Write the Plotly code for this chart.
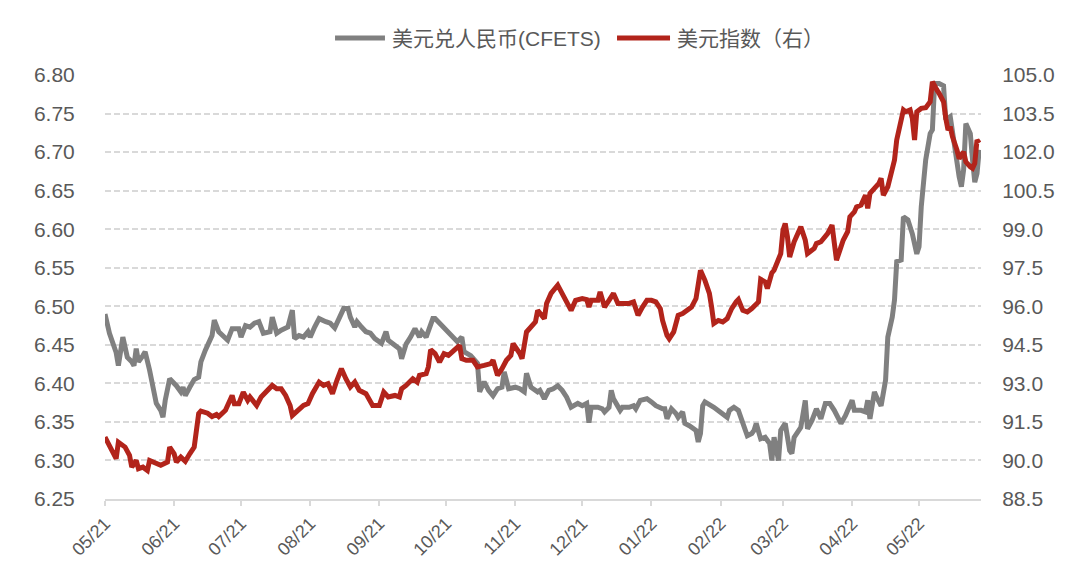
import pandas as pd
import plotly.graph_objects as go

# day offsets from 2021-05-01 and values
start = pd.Timestamp("2021-05-01")

cny_days = [0, 2, 5, 6, 8, 10, 12, 13, 14, 15, 17, 18, 20, 22, 23, 25, 26, 27, 29, 32, 34, 35, 36, 38, 40, 42, 43, 45, 48, 49,
            51, 55, 57, 60, 61, 63, 65, 67, 69, 71, 73, 74, 75, 77, 79, 82, 84, 85, 87, 89, 91, 92, 94, 96, 99, 101, 103, 105, 107, 109,
            110, 112, 113, 115, 117, 119, 121, 124, 126, 127, 130, 132, 133, 135, 137, 139, 141, 142, 144, 145, 147, 148, 153, 158, 160, 161, 164, 167, 168, 170,
            172, 174, 176, 178, 179, 181, 184, 186, 188, 189, 191, 194, 195, 197, 199, 201, 203, 205, 207, 209, 212, 214, 216, 217, 218, 221, 223, 224, 226, 227,
            228, 231, 232, 235, 237, 238, 240, 243, 245, 247, 250, 251, 252, 254, 256, 257, 259, 260, 262, 264, 265, 266, 267, 268, 269, 273, 277, 279, 280, 282,
            284, 286, 288, 290, 291, 292, 294, 296, 298, 299, 300, 302, 303, 305, 307, 308, 309, 312, 314, 315, 317, 319, 321, 323, 325, 327, 330, 332, 335, 336,
            339, 341, 342, 343, 345, 346, 348, 350, 351, 352, 353, 354, 355, 357, 358, 360, 362, 364, 365, 366, 367, 368, 370, 371, 372, 374, 376, 377, 379, 381,
            383, 384, 385, 386, 388, 389, 390, 391, 392]
cny = [6.490, 6.465, 6.440, 6.423, 6.460, 6.434, 6.428, 6.423, 6.445, 6.428, 6.436, 6.441, 6.417, 6.387, 6.374, 6.365, 6.356, 6.378, 6.406, 6.397, 6.389, 6.395, 6.384, 6.395, 6.405, 6.408, 6.428, 6.443, 6.462, 6.482,
       6.467, 6.456, 6.471, 6.471, 6.460, 6.475, 6.473, 6.478, 6.480, 6.465, 6.467, 6.467, 6.486, 6.465, 6.469, 6.473, 6.495, 6.458, 6.462, 6.460, 6.467, 6.460, 6.473, 6.484, 6.480, 6.478, 6.472, 6.486, 6.497, 6.497,
       6.486, 6.473, 6.480, 6.473, 6.467, 6.465, 6.458, 6.452, 6.467, 6.456, 6.449, 6.445, 6.432, 6.451, 6.460, 6.471, 6.460, 6.467, 6.460, 6.469, 6.484, 6.484, 6.469, 6.454, 6.460, 6.441, 6.436, 6.426, 6.389, 6.402,
       6.391, 6.384, 6.393, 6.395, 6.415, 6.393, 6.395, 6.393, 6.389, 6.413, 6.395, 6.389, 6.391, 6.380, 6.391, 6.393, 6.397, 6.391, 6.382, 6.369, 6.374, 6.371, 6.374, 6.349, 6.369, 6.369, 6.367, 6.363, 6.369, 6.391,
       6.380, 6.365, 6.369, 6.369, 6.371, 6.367, 6.378, 6.380, 6.376, 6.371, 6.367, 6.367, 6.354, 6.367, 6.361, 6.356, 6.363, 6.348, 6.345, 6.341, 6.339, 6.324, 6.335, 6.371, 6.376, 6.369, 6.361, 6.356, 6.365, 6.369,
       6.365, 6.348, 6.332, 6.335, 6.339, 6.348, 6.328, 6.330, 6.322, 6.300, 6.330, 6.300, 6.339, 6.348, 6.313, 6.309, 6.330, 6.343, 6.378, 6.341, 6.352, 6.367, 6.354, 6.374, 6.374, 6.365, 6.348, 6.358, 6.378, 6.365,
       6.365, 6.363, 6.378, 6.354, 6.389, 6.382, 6.371, 6.404, 6.460, 6.473, 6.486, 6.508, 6.558, 6.560, 6.616, 6.612, 6.594, 6.568, 6.577, 6.629, 6.655, 6.690, 6.724, 6.729, 6.789, 6.789, 6.786, 6.742, 6.746, 6.703,
       6.668, 6.655, 6.677, 6.737, 6.724, 6.690, 6.661, 6.672, 6.703]

dxy_days = [0, 2, 5, 6, 9, 11, 12, 14, 15, 17, 19, 20, 22, 25, 28, 29, 31, 32, 34, 36, 38, 40, 42, 43, 46, 48, 50, 51, 54, 55,
            57, 58, 60, 62, 64, 65, 68, 70, 73, 75, 77, 79, 81, 83, 84, 87, 89, 91, 93, 96, 98, 100, 102, 104, 106, 108, 110, 112, 114, 117,
            120, 123, 124, 125, 127, 130, 132, 133, 135, 138, 140, 141, 144, 145, 146, 148, 150, 152, 154, 157, 159, 160, 162, 165, 167, 170, 173, 174, 176, 178,
            180, 182, 183, 186, 187, 189, 191, 193, 194, 197, 198, 200, 203, 205, 207, 209, 211, 214, 216, 217, 218, 221, 222, 224, 226, 228, 230, 233, 235, 237,
            238, 239, 241, 243, 245, 247, 249, 250, 252, 253, 255, 256, 257, 259, 261, 263, 265, 266, 267, 269, 271, 272, 273, 275, 277, 279, 281, 283, 284, 286,
            288, 290, 292, 293, 294, 296, 297, 299, 300, 303, 304, 305, 306, 307, 309, 311, 312, 314, 315, 318, 319, 321, 323, 324, 326, 327, 328, 330, 331, 333,
            334, 336, 337, 339, 341, 342, 343, 345, 347, 348, 349, 351, 352, 354, 355, 357, 358, 359, 361, 362, 363, 364, 366, 368, 370, 371, 372, 373, 374, 376,
            377, 378, 379, 380, 382, 383, 385, 386, 388, 389, 390, 391, 392]
dxy = [90.91, 90.58, 90.07, 90.71, 90.52, 90.20, 89.74, 90.00, 89.68, 89.74, 89.61, 90.00, 89.94, 89.81, 89.94, 90.52, 90.26, 89.94, 90.13, 89.97, 90.26, 90.52, 91.82, 91.92, 91.84, 91.71, 91.79, 91.71, 91.95, 92.14,
       92.53, 92.21, 92.21, 92.66, 92.34, 92.47, 92.14, 92.47, 92.73, 92.92, 92.79, 92.79, 92.53, 92.14, 91.75, 91.95, 92.14, 92.21, 92.60, 93.05, 92.92, 92.99, 92.60, 93.12, 93.57, 93.18, 92.86, 93.05, 92.73, 92.60,
       92.14, 92.14, 92.34, 92.66, 92.47, 92.53, 92.47, 92.79, 92.92, 93.18, 93.05, 93.31, 93.38, 93.64, 94.31, 94.16, 93.83, 94.16, 94.09, 94.29, 94.48, 93.96, 93.90, 93.90, 93.64, 93.70, 93.77, 93.90, 93.31, 93.57,
       93.90, 94.09, 94.55, 94.16, 93.96, 95.00, 95.19, 95.39, 95.84, 95.52, 96.11, 96.50, 96.82, 96.50, 96.11, 95.84, 96.23, 96.30, 96.26, 95.97, 96.23, 96.23, 96.56, 95.97, 96.23, 96.50, 96.11, 96.11, 96.11, 96.17,
       95.84, 95.65, 95.97, 96.23, 96.23, 96.17, 95.91, 95.45, 94.87, 94.74, 95.00, 95.33, 95.65, 95.72, 95.84, 95.97, 96.30, 97.01, 97.40, 97.01, 96.50, 95.97, 95.33, 95.45, 95.39, 95.52, 95.91, 96.17, 96.26, 95.84,
       95.78, 95.91, 96.11, 96.17, 97.05, 96.95, 96.69, 97.30, 97.40, 98.05, 98.96, 99.22, 98.70, 97.92, 98.51, 98.83, 99.09, 98.57, 98.05, 98.25, 98.44, 98.51, 98.70, 98.83, 99.16, 98.51, 97.79, 98.31, 98.57, 98.90,
       99.48, 99.67, 99.87, 99.94, 100.32, 99.81, 100.39, 100.59, 100.78, 100.98, 100.32, 100.65, 101.04, 101.69, 102.47, 103.25, 103.64, 103.57, 103.64, 103.31, 102.47, 103.57, 103.70, 103.73, 103.96, 104.74, 104.55, 104.42, 104.29, 103.96,
       103.31, 102.86, 102.99, 102.60, 102.08, 101.75, 102.01, 101.62, 101.43, 101.37, 101.56, 102.47, 102.35]

cny_dates = start + pd.to_timedelta(cny_days, unit="D")
dxy_dates = start + pd.to_timedelta(dxy_days, unit="D")

GRAY = "#808080"
RED = "#b2241b"
TXT = "#595959"
FONT = "Liberation Sans, Arial, Noto Sans CJK SC"

fig = go.Figure()
fig.add_trace(go.Scatter(x=cny_dates, y=cny, mode="lines", name="美元兑人民币(CFETS)",
                         line=dict(color=GRAY, width=5), showlegend=False))
fig.add_trace(go.Scatter(x=dxy_dates, y=dxy, mode="lines", name="美元指数（右）", yaxis="y2",
                         line=dict(color=RED, width=5), showlegend=False))

# legend drawn by hand so the line samples are as long as in the original
legend_items = [("美元兑人民币(CFETS)", GRAY, 0.2626, 0.3196), ("美元指数（右）", RED, 0.5845, 0.645)]
for label, col, x0, x1 in legend_items:
    fig.add_shape(type="line", xref="paper", yref="paper", x0=x0, x1=x1, y0=1.087, y1=1.087,
                  line=dict(color=col, width=5))
    fig.add_annotation(xref="paper", yref="paper", x=x1 + 0.006, y=1.087, text=label, showarrow=False,
                       xanchor="left", yanchor="middle", font=dict(size=21, color=TXT, family=FONT))

# page body has an 8px margin, so the figure is a bit smaller than the window
fig.update_layout(
    width=1072, height=579,
    margin=dict(l=97, r=99, t=67, b=88),
    paper_bgcolor="white", plot_bgcolor="white",
    font=dict(family=FONT, color=TXT, size=20),
    xaxis=dict(type="date", range=["2021-05-01", "2022-05-28 19:00"], automargin=False,
               tick0="2021-05-01", dtick="M1", tickformat="%m/%y", tickangle=-45,
               ticks="outside", ticklen=5, tickcolor="#d9d9d9", tickwidth=1.5,
               showline=True, linecolor="#d9d9d9", linewidth=2, showgrid=False,
               tickfont=dict(size=18, color=TXT)),
    yaxis=dict(range=[6.25, 6.80], dtick=0.05, tick0=6.25, tickformat=".2f", automargin=False,
               showgrid=True, gridcolor="#d9d9d9", gridwidth=1.5, griddash="6px,3px",
               zeroline=False, showline=False,
               ticks="outside", ticklen=25, tickcolor="rgba(0,0,0,0)",
               tickfont=dict(size=21, color=TXT)),
    yaxis2=dict(range=[88.5, 105.0], dtick=1.5, tick0=88.5, tickformat=".1f", automargin=False,
                overlaying="y", side="right", showgrid=False, zeroline=False, showline=False,
                ticks="outside", ticklen=16, tickcolor="rgba(0,0,0,0)",
                tickfont=dict(size=21, color=TXT)),
)

fig.write_html("out.html")
